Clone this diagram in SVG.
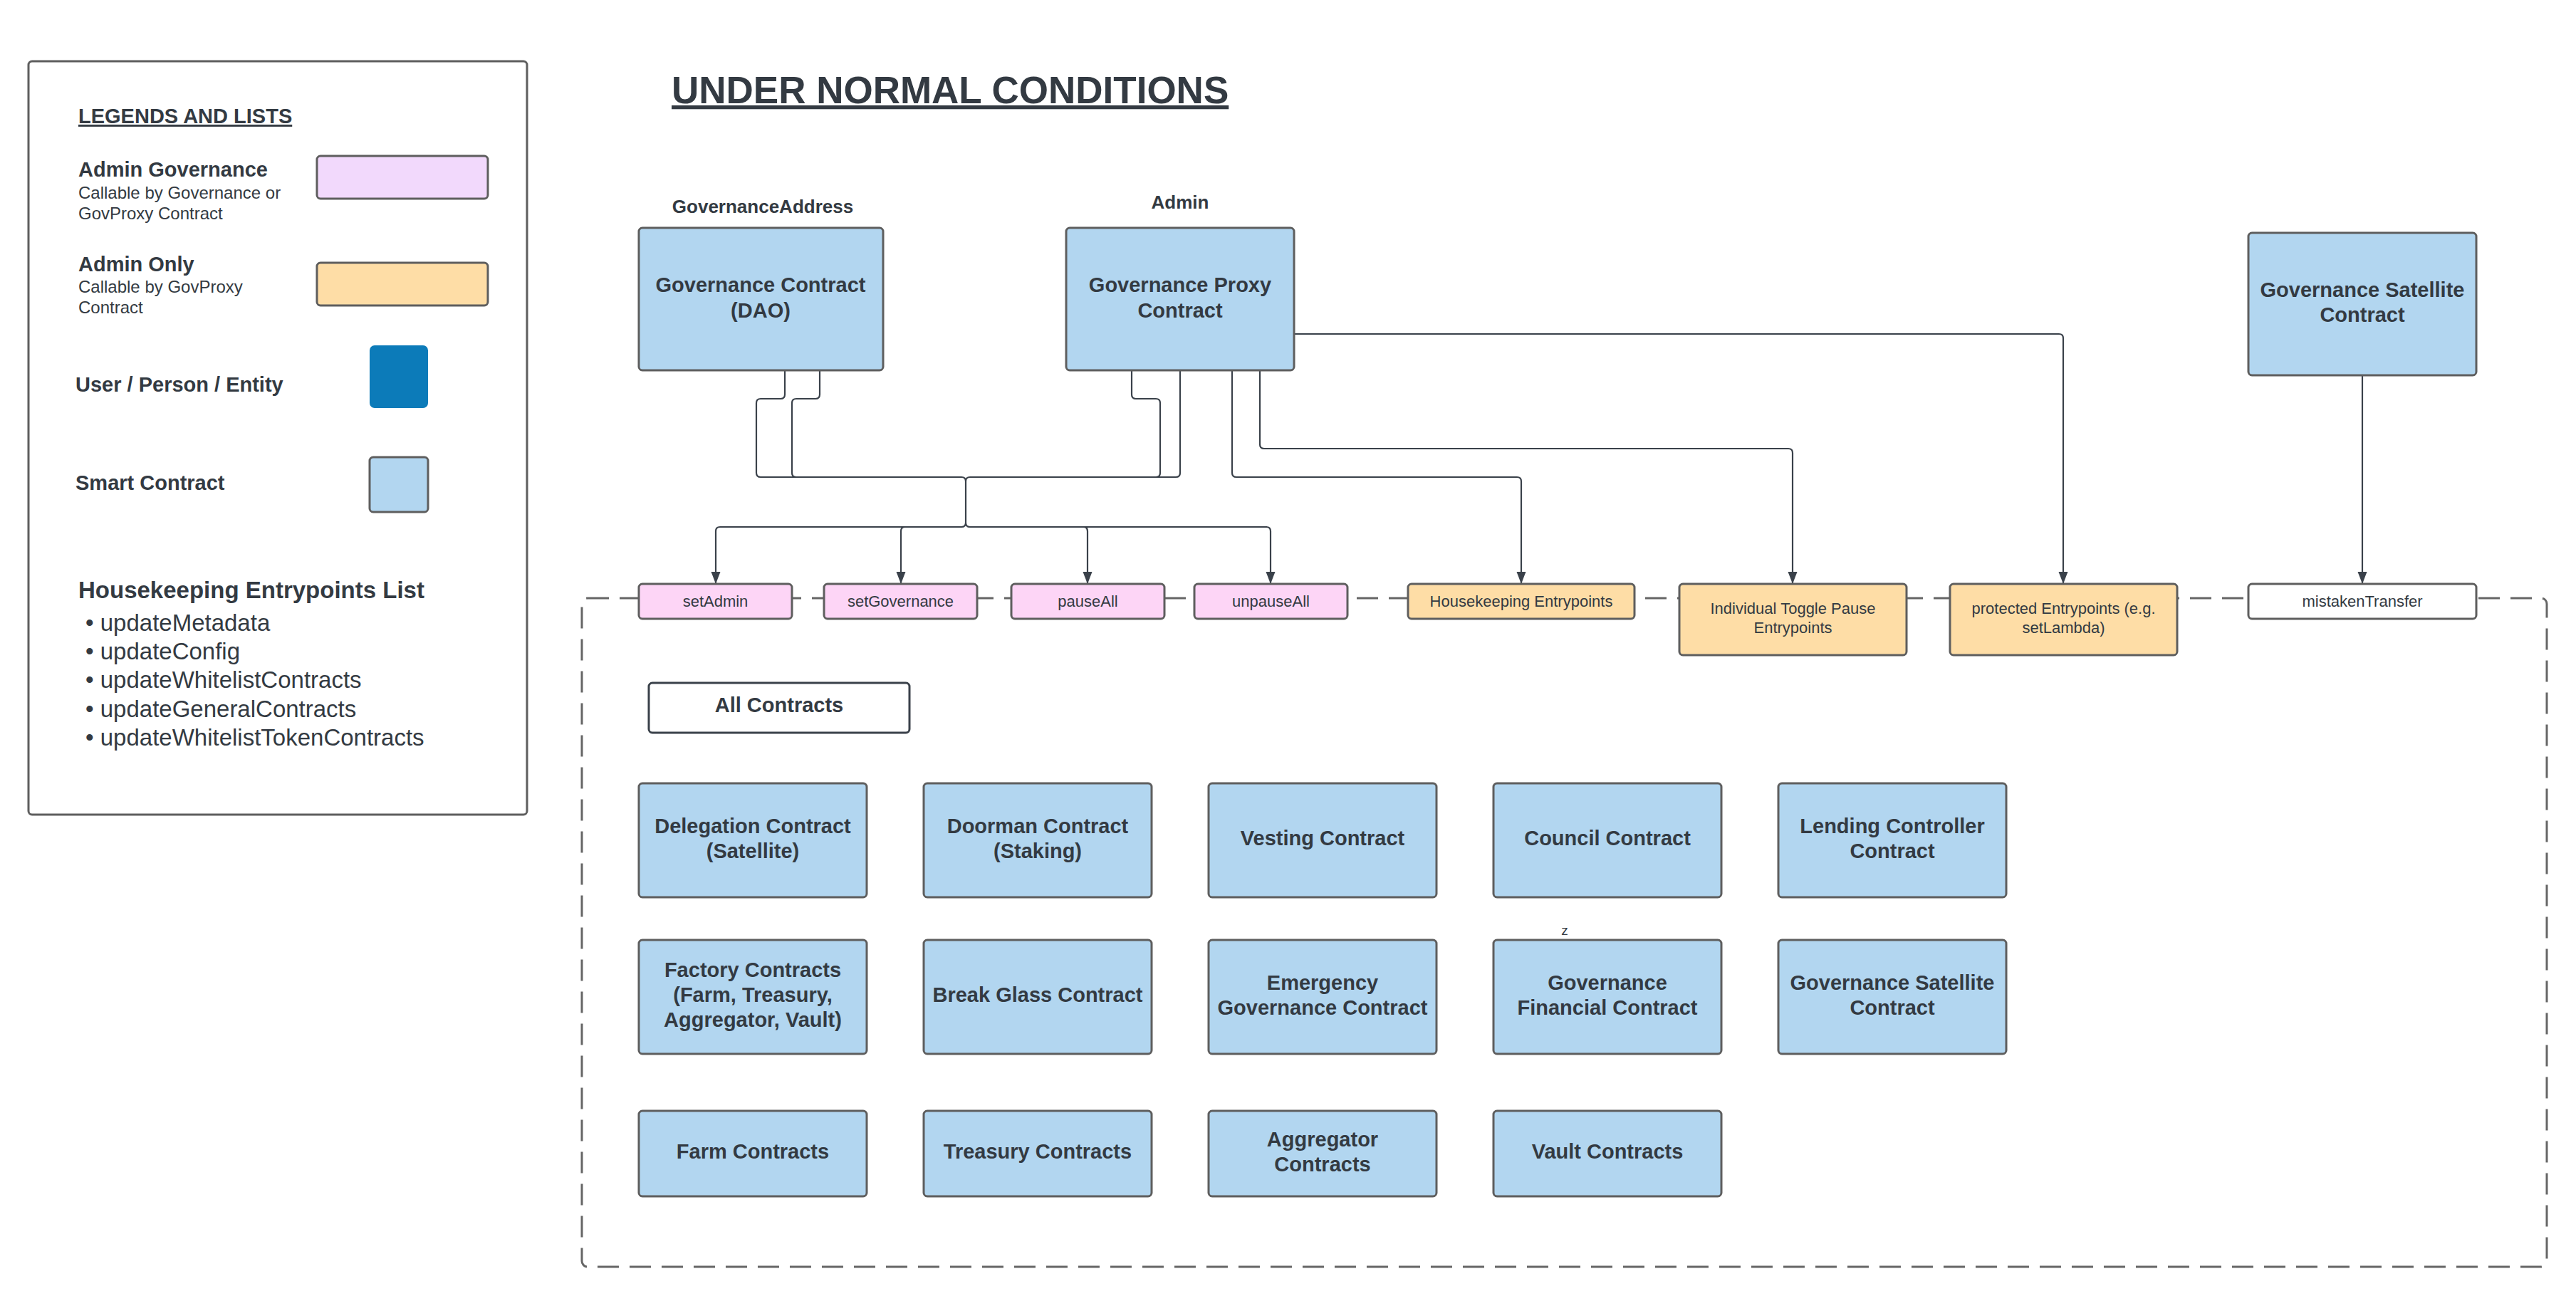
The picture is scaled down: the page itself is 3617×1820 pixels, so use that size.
<svg xmlns="http://www.w3.org/2000/svg" width="3617" height="1820" viewBox="0 0 3617 1820">
<style>
text{font-family:"Liberation Sans",Arial,sans-serif;fill:#333a42}
.b{font-weight:bold}
.t29{font-size:29px;font-weight:bold;text-anchor:middle}
.t22{font-size:22px;text-anchor:middle}
.sc{fill:#b2d6f0;stroke:#5e5e5e;stroke-width:3}
.pk{fill:#fdd5f6;stroke:#5e5e5e;stroke-width:3}
.or{fill:#fedda6;stroke:#5e5e5e;stroke-width:3}
.wh{fill:#ffffff;stroke:#5e5e5e;stroke-width:3}
.cn{fill:none;stroke:#3a414a;stroke-width:2.2}
.ar{marker-end:url(#arr)}
</style>
<defs>
<marker id="arr" markerUnits="userSpaceOnUse" markerWidth="18" markerHeight="14" refX="17" refY="6.5" orient="auto">
<path d="M0,0 L17,6.5 L0,13 z" fill="#3a414a"/>
</marker>
</defs>
<rect width="3617" height="1820" fill="#ffffff"/>

<g id="legend">
<rect x="40" y="86" width="700" height="1058" rx="5" fill="#ffffff" stroke="#5e5e5e" stroke-width="3"/>
<text x="110" y="173" class="b" font-size="29" text-decoration="underline">LEGENDS AND LISTS</text>
<text x="110" y="248" class="b" font-size="29">Admin Governance</text>
<text x="110" y="279" font-size="24">Callable by Governance or</text>
<text x="110" y="308" font-size="24">GovProxy Contract</text>
<rect x="445" y="219" width="240" height="60" rx="5" fill="#f2d9fc" stroke="#5e5e5e" stroke-width="3"/>
<text x="110" y="381" class="b" font-size="29">Admin Only</text>
<text x="110" y="411" font-size="24">Callable by GovProxy</text>
<text x="110" y="440" font-size="24">Contract</text>
<rect x="445" y="369" width="240" height="60" rx="5" class="or"/>
<text x="106" y="550" class="b" font-size="29">User / Person / Entity</text>
<rect x="519" y="485" width="82" height="88" rx="7" fill="#0c7bb9"/>
<text x="106" y="688" class="b" font-size="29">Smart Contract</text>
<rect x="519" y="642" width="82" height="77" rx="5" class="sc"/>
<text x="110" y="840" class="b" font-size="33">Housekeeping Entrypoints List</text>
<text x="120" y="886" font-size="33">• updateMetadata</text>
<text x="120" y="926" font-size="33">• updateConfig</text>
<text x="120" y="966" font-size="33">• updateWhitelistContracts</text>
<text x="120" y="1007" font-size="33">• updateGeneralContracts</text>
<text x="120" y="1047" font-size="33">• updateWhitelistTokenContracts</text>
</g>

<g id="title">
<text x="943" y="145" class="b" font-size="53" text-decoration="underline">UNDER NORMAL CONDITIONS</text>
</g>

<g id="container">
<rect x="817" y="840" width="2759" height="939" rx="8" fill="none" stroke="#666666" stroke-width="3" stroke-dasharray="30 15"/>
</g>

<g id="connectors">
<path class="cn" d="M1102,520 V554 Q1102,560 1096,560 H1068 Q1062,560 1062,566 V664 Q1062,670 1068,670 H1350 Q1356,670 1356,676"/>
<path class="cn" d="M1151,520 V554 Q1151,560 1145,560 H1118 Q1112,560 1112,566 V664 Q1112,670 1118,670 H1350"/>
<path class="cn" d="M1589,520 V554 Q1589,560 1595,560 H1623 Q1629,560 1629,566 V664 Q1629,670 1623,670 H1362 Q1356,670 1356,676"/>
<path class="cn" d="M1657,520 V664 Q1657,670 1651,670 H1362"/>
<path class="cn" d="M1356,676 V734"/>
<path class="cn ar" d="M1356,734 Q1356,740 1350,740 H1011 Q1005,740 1005,746 V820"/>
<path class="cn ar" d="M1350,740 H1271 Q1265,740 1265,746 V820"/>
<path class="cn ar" d="M1356,734 Q1356,740 1362,740 H1521 Q1527,740 1527,746 V820"/>
<path class="cn ar" d="M1362,740 H1778 Q1784,740 1784,746 V820"/>
<path class="cn ar" d="M1730,520 V664 Q1730,670 1736,670 H2130 Q2136,670 2136,676 V820"/>
<path class="cn ar" d="M1769,520 V624 Q1769,630 1775,630 H2511 Q2517,630 2517,636 V820"/>
<path class="cn ar" d="M1817,469 H2891 Q2897,469 2897,475 V820"/>
<path class="cn ar" d="M3317,527 V820"/>
</g>

<g id="gov-dao">
<text x="1071" y="299" class="b" font-size="26" text-anchor="middle">GovernanceAddress</text>
<rect x="897" y="320" width="343" height="200" rx="5" class="sc"/>
<text x="1068" y="410" class="t29">Governance Contract</text>
<text x="1068" y="446" class="t29">(DAO)</text>
</g>
<g id="gov-proxy">
<text x="1657" y="293" class="b" font-size="26" text-anchor="middle">Admin</text>
<rect x="1497" y="320" width="320" height="200" rx="5" class="sc"/>
<text x="1657" y="410" class="t29">Governance Proxy</text>
<text x="1657" y="446" class="t29">Contract</text>
</g>
<g id="gov-satellite-top">
<rect x="3157" y="327" width="320" height="200" rx="5" class="sc"/>
<text x="3317" y="417" class="t29">Governance Satellite</text>
<text x="3317" y="452" class="t29">Contract</text>
</g>

<g id="ep-setAdmin"><rect x="897" y="820" width="215" height="49" rx="5" class="pk"/><text x="1004.5" y="852" class="t22">setAdmin</text></g>
<g id="ep-setGovernance"><rect x="1157" y="820" width="215" height="49" rx="5" class="pk"/><text x="1264.5" y="852" class="t22">setGovernance</text></g>
<g id="ep-pauseAll"><rect x="1420" y="820" width="215" height="49" rx="5" class="pk"/><text x="1527.5" y="852" class="t22">pauseAll</text></g>
<g id="ep-unpauseAll"><rect x="1677" y="820" width="215" height="49" rx="5" class="pk"/><text x="1784.5" y="852" class="t22">unpauseAll</text></g>
<g id="ep-housekeeping"><rect x="1977" y="820" width="318" height="49" rx="5" class="or"/><text x="2136" y="852" class="t22">Housekeeping Entrypoints</text></g>
<g id="ep-toggle"><rect x="2358" y="820" width="319" height="100" rx="5" class="or"/><text x="2517.5" y="862" class="t22">Individual Toggle Pause</text><text x="2517.5" y="889" class="t22">Entrypoints</text></g>
<g id="ep-protected"><rect x="2738" y="820" width="319" height="100" rx="5" class="or"/><text x="2897.5" y="862" class="t22">protected Entrypoints (e.g.</text><text x="2897.5" y="889" class="t22">setLambda)</text></g>
<g id="ep-mistaken"><rect x="3157" y="820" width="320" height="49" rx="5" class="wh"/><text x="3317" y="852" class="t22">mistakenTransfer</text></g>

<g id="all-contracts"><rect x="911" y="959" width="366" height="70" rx="5" fill="#ffffff" stroke="#3a414a" stroke-width="3"/><text x="1094" y="1000" class="t29">All Contracts</text></g>

<g id="delegation"><rect x="897" y="1100" width="320" height="160" rx="5" class="sc"/><text x="1057" y="1170" class="t29">Delegation Contract</text><text x="1057" y="1205" class="t29">(Satellite)</text></g>
<g id="doorman"><rect x="1297" y="1100" width="320" height="160" rx="5" class="sc"/><text x="1457" y="1170" class="t29">Doorman Contract</text><text x="1457" y="1205" class="t29">(Staking)</text></g>
<g id="vesting"><rect x="1697" y="1100" width="320" height="160" rx="5" class="sc"/><text x="1857" y="1187" class="t29">Vesting Contract</text></g>
<g id="council"><rect x="2097" y="1100" width="320" height="160" rx="5" class="sc"/><text x="2257" y="1187" class="t29">Council Contract</text></g>
<g id="lending"><rect x="2497" y="1100" width="320" height="160" rx="5" class="sc"/><text x="2657" y="1170" class="t29">Lending Controller</text><text x="2657" y="1205" class="t29">Contract</text></g>

<g id="factory"><rect x="897" y="1320" width="320" height="160" rx="5" class="sc"/><text x="1057" y="1372" class="t29">Factory Contracts</text><text x="1057" y="1407" class="t29">(Farm, Treasury,</text><text x="1057" y="1442" class="t29">Aggregator, Vault)</text></g>
<g id="breakglass"><rect x="1297" y="1320" width="320" height="160" rx="5" class="sc"/><text x="1457" y="1407" class="t29">Break Glass Contract</text></g>
<g id="emergency"><rect x="1697" y="1320" width="320" height="160" rx="5" class="sc"/><text x="1857" y="1390" class="t29">Emergency</text><text x="1857" y="1425" class="t29">Governance Contract</text></g>
<g id="govfinancial"><text x="2197" y="1313" font-family="Liberation Serif, serif" font-size="19" text-anchor="middle">z</text><rect x="2097" y="1320" width="320" height="160" rx="5" class="sc"/><text x="2257" y="1390" class="t29">Governance</text><text x="2257" y="1425" class="t29">Financial Contract</text></g>
<g id="govsatellite"><rect x="2497" y="1320" width="320" height="160" rx="5" class="sc"/><text x="2657" y="1390" class="t29">Governance Satellite</text><text x="2657" y="1425" class="t29">Contract</text></g>

<g id="farm"><rect x="897" y="1560" width="320" height="120" rx="5" class="sc"/><text x="1057" y="1627" class="t29">Farm Contracts</text></g>
<g id="treasury"><rect x="1297" y="1560" width="320" height="120" rx="5" class="sc"/><text x="1457" y="1627" class="t29">Treasury Contracts</text></g>
<g id="aggregator"><rect x="1697" y="1560" width="320" height="120" rx="5" class="sc"/><text x="1857" y="1610" class="t29">Aggregator</text><text x="1857" y="1645" class="t29">Contracts</text></g>
<g id="vault"><rect x="2097" y="1560" width="320" height="120" rx="5" class="sc"/><text x="2257" y="1627" class="t29">Vault Contracts</text></g>
</svg>
